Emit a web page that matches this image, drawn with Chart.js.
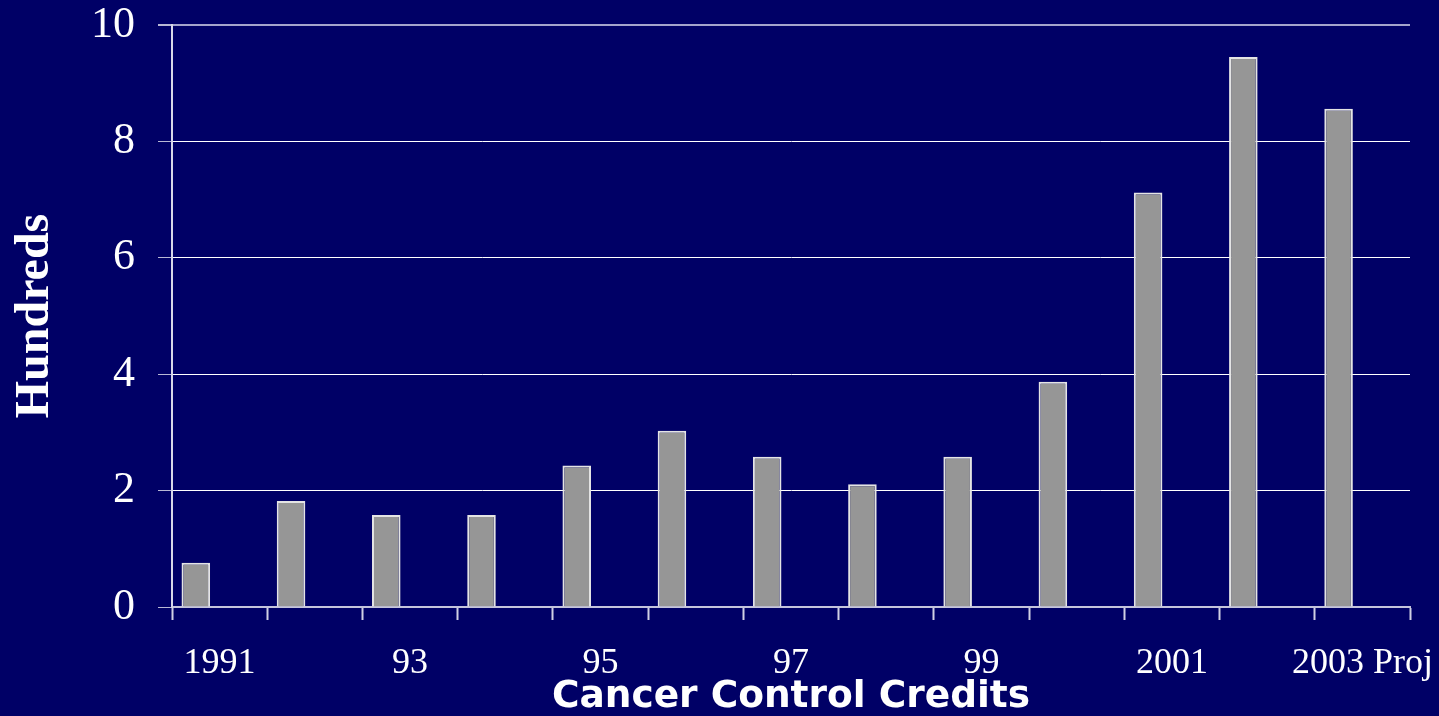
<!DOCTYPE html>
<html>
<head>
<meta charset="utf-8">
<title>Cancer Control Credits</title>
<script src="https://cdn.jsdelivr.net/npm/chart.js@4/dist/chart.umd.min.js"></script>
<style>
  html, body { margin: 0; padding: 0; background: #000066; overflow: hidden; }
  #wrap { position: relative; width: 1439px; height: 716px; }
</style>
</head>
<body>
<div id="wrap"><canvas id="chart"></canvas></div>
<script>
// credits per year, in hundreds
const years = ["1991", "", "93", "", "95", "", "97", "", "99", "", "2001", "", "2003 Proj"];
const credits = [0.76, 1.82, 1.58, 1.58, 2.43, 3.03, 2.58, 2.11, 2.58, 3.87, 7.12, 9.45, 8.56];
// empty second series keeps each bar in the left half of its slot
const spacer = years.map(() => null);
const yTicks = [0, 2, 4, 6, 8, 10];

const serif = "'Liberation Serif', 'Times New Roman', serif";

const canvas = document.getElementById("chart");

const chart = new Chart(canvas.getContext("2d"), {
  type: "bar",
  data: {
    labels: years,
    datasets: [
      {
        label: "Credits",
        data: credits,
        backgroundColor: "#969696",
        borderColor: "#e4e4e4",
        borderWidth: 2,
        categoryPercentage: 1,
        barPercentage: 0.6,
      },
      {
        label: "spacer",
        data: spacer,
        categoryPercentage: 1,
        barPercentage: 0.6,
      },
    ],
  },
  options: {
    responsive: true,
    maintainAspectRatio: false,
    animation: false,
    layout: { padding: { top: 25, right: 29, bottom: 0, left: 0 } },
    plugins: {
      legend: { display: false },
      tooltip: { enabled: false },
    },
    scales: {
      x: {
        grid: {
          offset: true,
          drawOnChartArea: false,
          drawTicks: true,
          tickLength: 13,
          tickColor: "#d0d0e4",
          tickWidth: 2,
        },
        border: { color: "#c4c4dc", width: 2 },
        ticks: {
          autoSkip: false,
          maxRotation: 0,
          color: "#ffffff",
          padding: 22,
          font: { family: serif, size: 36 },
        },
        title: {
          display: true,
          text: "Cancer Control Credits",
          color: "#ffffff",
          padding: 0,
          font: { family: "'DejaVu Sans', Verdana, sans-serif", size: 37.5, weight: "bold", lineHeight: 1.0 },
        },
        afterFit: (scale) => {
          scale.height = 109;
          scale.paddingLeft = 0;
          scale.paddingRight = 0;
        },
      },
      y: {
        min: 0,
        max: 10,
        afterBuildTicks: (scale) => {
          scale.ticks = yTicks.map((value) => ({ value }));
        },
        grid: {
          color: (ctx) => (ctx.tick && ctx.tick.value === 10 ? "#a4a4cc" : "#ffffff"),
          lineWidth: (ctx) => (ctx.tick && ctx.tick.value === 10 ? 2 : 1),
          tickLength: 14,
          tickColor: "#b8b8d4",
        },
        border: { color: "#d8d8e8", width: 2 },
        ticks: {
          color: "#ffffff",
          padding: 23,
          font: { family: serif, size: 44 },
        },
        title: {
          display: true,
          text: "Hundreds",
          color: "#ffffff",
          padding: { top: 7, bottom: 0 },
          font: { family: serif, size: 48, weight: "bold", lineHeight: 1.2 },
        },
        afterFit: (scale) => {
          scale.width = 172;
          scale.paddingTop = 0;
          scale.paddingBottom = 0;
        },
      },
    },
  },
});
</script>
</body>
</html>
